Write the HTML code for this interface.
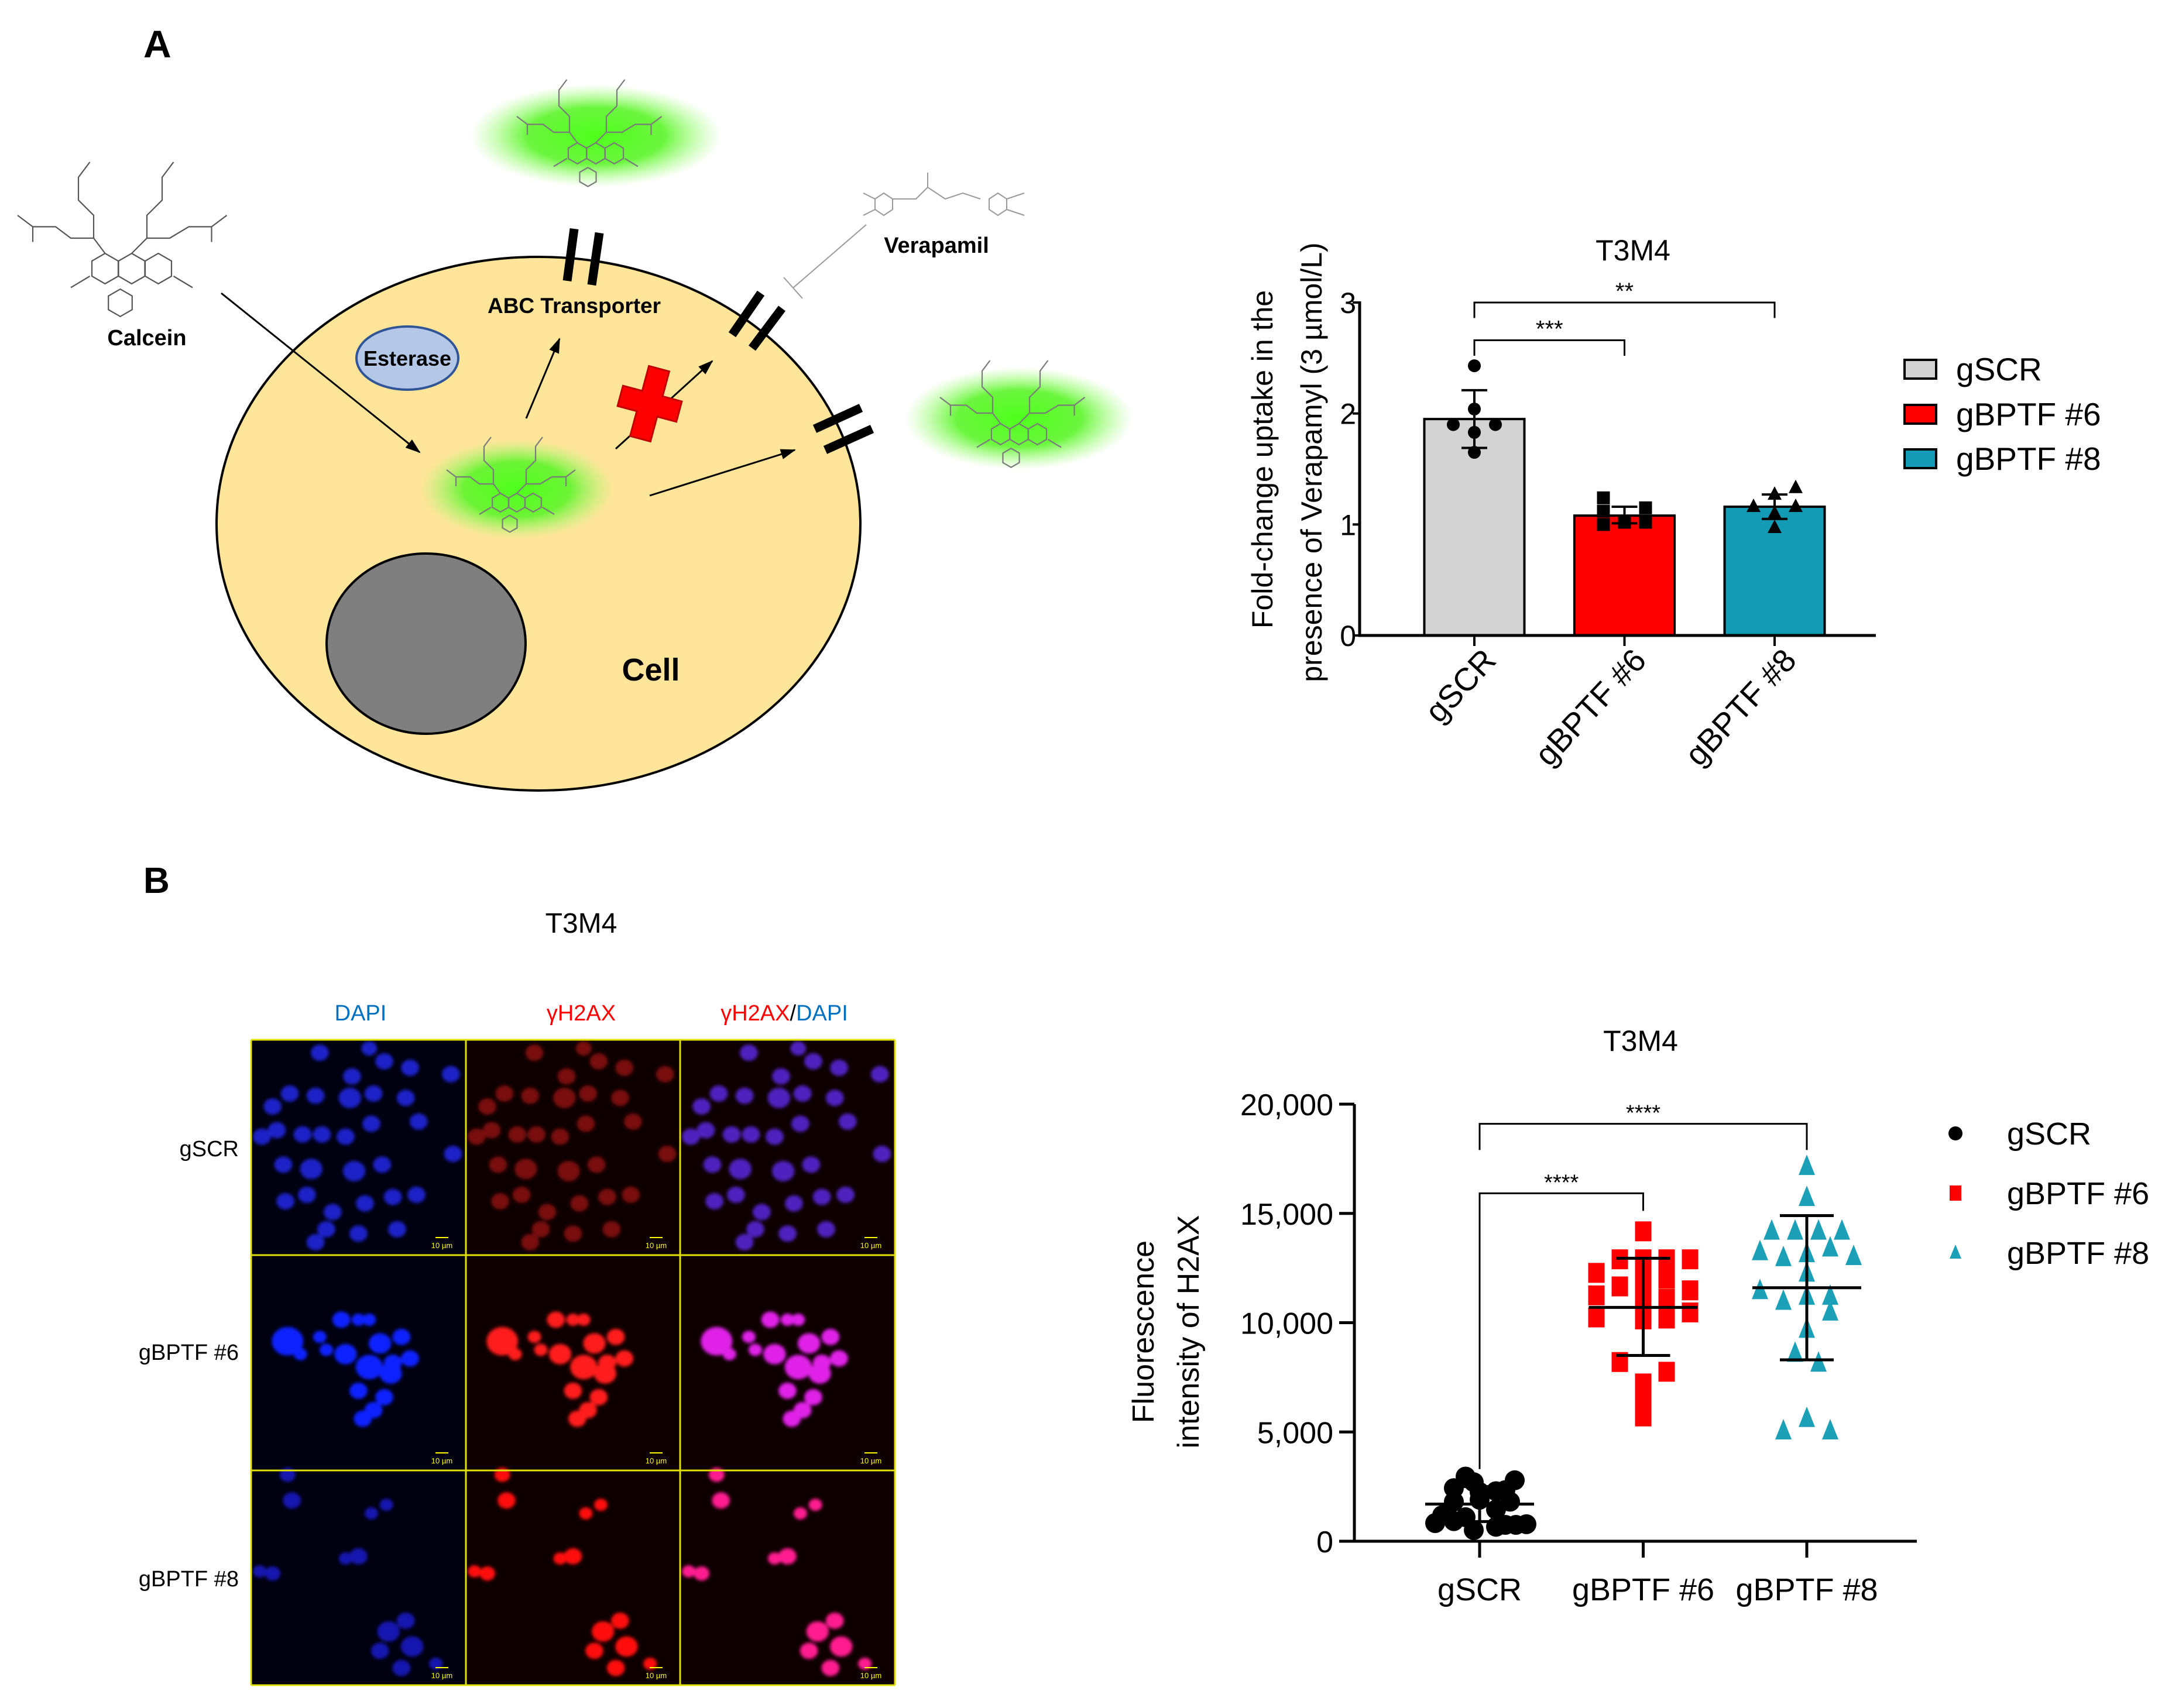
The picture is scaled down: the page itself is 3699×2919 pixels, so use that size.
<!DOCTYPE html>
<html><head><meta charset="utf-8">
<style>
html,body{margin:0;padding:0;background:#fff;}
svg{display:block;font-family:"Liberation Sans",sans-serif;}
.dg{font-family:"Liberation Sans",sans-serif;font-weight:bold;}
</style></head>
<body>
<svg id="fig" width="3699" height="2919" viewBox="0 0 3699 2919" xmlns="http://www.w3.org/2000/svg">
<defs>
  <radialGradient id="glow" cx="50%" cy="50%" r="50%">
    <stop offset="0%" stop-color="#4dff1a" stop-opacity="1"/>
    <stop offset="55%" stop-color="#5cf52a" stop-opacity="0.9"/>
    <stop offset="100%" stop-color="#9cff6e" stop-opacity="0"/>
  </radialGradient>
  <filter id="blur1"><feGaussianBlur stdDeviation="6"/></filter>
  <filter id="blur2"><feGaussianBlur stdDeviation="3"/></filter>
  <marker id="arrB" markerWidth="26" markerHeight="22" refX="24" refY="11" orient="auto" markerUnits="userSpaceOnUse" viewBox="0 0 26 22">
    <path d="M0,2 L26,11 L0,20 z" fill="#000"/>
  </marker>
</defs>
<rect width="3699" height="2919" fill="#fff"/>

<!-- Panel A diagram -->
<g id="diagram">
  <text x="245" y="98" font-size="66" class="dg">A</text>
  <ellipse cx="1018" cy="232" rx="215" ry="88" fill="url(#glow)"/>
  <ellipse cx="920" cy="895" rx="550" ry="456" fill="#fee599" stroke="#000" stroke-width="4"/>
  <ellipse cx="728" cy="1100" rx="170" ry="154" fill="#7f7f7f" stroke="#000" stroke-width="4"/>
  <ellipse cx="696" cy="612" rx="87" ry="54" fill="#b4c7e7" stroke="#2f5597" stroke-width="4"/>
  <text x="696" y="625" font-size="36" text-anchor="middle" class="dg">Esterase</text>
  <ellipse cx="883" cy="836" rx="165" ry="85" fill="url(#glow)"/>
  <ellipse cx="1741" cy="715" rx="195" ry="88" fill="url(#glow)"/>
  <g id="mols"></g>
  <text x="251" y="590" font-size="38" text-anchor="middle" class="dg">Calcein</text>
  <text x="981" y="535" font-size="37" text-anchor="middle" class="dg">ABC Transporter</text>
  <text x="1600" y="432" font-size="38" text-anchor="middle" class="dg">Verapamil</text>
  <text x="1112" y="1163" font-size="54" text-anchor="middle" class="dg">Cell</text>
  <g stroke="#000" stroke-width="15">
    <line x1="981" y1="391" x2="969" y2="480"/>
    <line x1="1024" y1="398" x2="1011" y2="487"/>
    <line x1="1300" y1="501" x2="1251" y2="572"/>
    <line x1="1336" y1="527" x2="1285" y2="595"/>
    <line x1="1392" y1="733" x2="1471" y2="697"/>
    <line x1="1410" y1="769" x2="1490" y2="733"/>
  </g>
  <g stroke="#000" stroke-width="3" fill="none">
    <line x1="378" y1="501" x2="717" y2="773" marker-end="url(#arrB)"/>
    <line x1="899" y1="715" x2="956" y2="579" marker-end="url(#arrB)"/>
    <line x1="1052" y1="767" x2="1217" y2="617" marker-end="url(#arrB)"/>
    <line x1="1110" y1="847" x2="1358" y2="769" marker-end="url(#arrB)"/>
    <line x1="1480" y1="384" x2="1355" y2="492" stroke="#999" stroke-width="2"/>
    <line x1="1339" y1="474" x2="1371" y2="510" stroke="#999" stroke-width="2"/>
  </g>
  <g transform="translate(1110,690) rotate(15)">
    <path d="M-18,-62 H18 V-18 H52 V18 H18 V62 H-18 V18 H-52 V-18 H-18 Z" fill="#ff0000" stroke="#c00000" stroke-width="3"/>
  </g>
</g>

<!-- Panel B microscopy -->
<g id="micro" transform="translate(0,-6)">
  <text x="245" y="1532" font-size="62" class="dg">B</text>
  <text x="993" y="1600" font-size="48" text-anchor="middle">T3M4</text>
  <text x="616" y="1750" font-size="38" text-anchor="middle" fill="#0070c0">DAPI</text>
  <text x="993" y="1750" font-size="38" text-anchor="middle" fill="#ff0000">γH2AX</text>
  <text x="1340" y="1750" font-size="38" text-anchor="middle"><tspan fill="#ff0000">γH2AX</tspan><tspan fill="#000">/</tspan><tspan fill="#0070c0">DAPI</tspan></text>
  <text x="408" y="1982" font-size="38" text-anchor="end">gSCR</text>
  <text x="408" y="2330" font-size="38" text-anchor="end">gBPTF #6</text>
  <text x="408" y="2717" font-size="38" text-anchor="end">gBPTF #8</text>
  <g id="panels"></g>
</g>

<!-- Bar chart -->
<g id="bar" transform="translate(-8,-5)">
  <text x="2798" y="450" font-size="50" text-anchor="middle">T3M4</text>
  <text transform="translate(2182,790) rotate(-90)" font-size="50" text-anchor="middle">Fold-change uptake in the</text>
  <text transform="translate(2266,795) rotate(-90)" font-size="50" text-anchor="middle">presence of Verapamyl (3 µmol/L)</text>
</g>

<!-- Scatter chart -->
<g id="sc" transform="translate(-14,-12)">
  <text x="2817" y="1808" font-size="50" text-anchor="middle">T3M4</text>
  <text transform="translate(1985,2288) rotate(-90)" font-size="52" text-anchor="middle">Fluorescence</text>
  <text transform="translate(2062,2288) rotate(-90)" font-size="52" text-anchor="middle">intensity of H2AX</text>
</g>
</svg>

<script>
const NS='http://www.w3.org/2000/svg';
function mk(parent,tag,attrs,txt){const e=document.createElementNS(NS,tag);for(const k in attrs)e.setAttribute(k,attrs[k]);if(txt!==undefined)e.textContent=txt;parent.appendChild(e);return e;}

/* ---------- Bar chart data ---------- */
const barCats=['gSCR','gBPTF #6','gBPTF #8'];
const barMeans=[1.95,1.08,1.16];
const barSdLow=[1.69,1.01,1.05];
const barSdHigh=[2.21,1.16,1.27];
const barPtsScr=[2.43,2.04,1.90,1.90,1.83,1.65];
const barPts6=[1.24,1.12,1.15,1.00,1.02,1.02];
const barPts8=[1.33,1.27,1.16,1.16,1.10,0.97];
const barTicks=[0,1,2,3];
const barTickLabels=['0','1','2','3'];
const barColors=['#d3d3d3','#ff0000','#139bb6'];

/* ---------- Scatter data ---------- */
const scCats=['gSCR','gBPTF #6','gBPTF #8'];
const scScr=[2960,2790,2700,2430,2340,2250,2290,1810,1810,1900,1450,1190,1100,920,830,750,750,780,660,510];
const scB6=[14180,12900,12900,12900,12900,12280,12050,11660,12010,11480,11250,11660,11090,10770,10470,10240,10150,10190,8200,7755,7220,6600,5710];
const scB8=[17160,15740,14200,14200,14200,14200,13260,13430,13170,13040,12990,12280,11480,11220,11220,10990,10500,9710,8610,8160,5630,5060,5060];
const scMeans=[1700,10700,11600];
const scSdLow=[900,8500,8300];
const scSdHigh=[2500,12950,14900];
const scTicks=[0,5000,10000,15000,20000];
const scTickLabels=['0','5,000','10,000','15,000','20,000'];

/* layout-only jitter (step units) */
const jitScr=[-0.6,1.5,-0.25,-1.1,1.1,0,0.7,-1.1,1.3,0,0.7,-1.6,-0.6,-1.1,-1.9,1.1,1.55,2,0.7,-0.25];
const jitB6=[0,-1,0,1,2,-2,0,-1,1,2,-2,0,1,0,2,-2,0,1,-1,1,0,0,0];
const jitB8=[0,0,-1.5,-0.5,0.5,1.5,-2,1,0,2,-1,0,-2,0,1,-1,1,0,-0.5,0.5,0,-1,1];
const barJScr=[0,0,-1,1,0,0], barJ6=[-1,-1,1,-1,0,1], barJ8=[1,0,-1,1,0,0];

/* ---------- Bar chart drawing ---------- */
(function(){
  const g=document.getElementById('bar');
  const x0=2331,xEnd=3213,y0=1091,y3=522;
  const yB=v=>y0-(v/3)*(y0-y3);
  const xB=i=>2527+i*256.5;
  const bw=171;
  for(let i=0;i<barCats.length;i++){
    const r=mk(g,'rect',{x:xB(i)-bw/2,y:yB(barMeans[i]),width:bw,height:yB(0)-yB(barMeans[i]),fill:barColors[i],stroke:'#000','stroke-width':4});
    
    
  }
  const pts=[barPtsScr,barPts6,barPts8], jit=[barJScr,barJ6,barJ8];
  for(let i=0;i<3;i++){
    pts[i].forEach((v,j)=>{
      const cx=xB(i)+jit[i][j]*36, cy=yB(v);
      let e;
      if(i===0) e=mk(g,'circle',{cx:cx,cy:cy,r:11,fill:'#000'});
      else if(i===1) e=mk(g,'rect',{x:cx-11,y:cy-11,width:22,height:22,fill:'#000'});
      else e=mk(g,'path',{d:`M${cx},${cy-14} L${cx+12},${cy+9} L${cx-12},${cy+9} Z`,fill:'#000'});
      
      
    });
    const eb=mk(g,'path',{d:`M${xB(i)},${yB(barSdLow[i])} V${yB(barSdHigh[i])} M${xB(i)-22},${yB(barSdHigh[i])} H${xB(i)+22} M${xB(i)-22},${yB(barSdLow[i])} H${xB(i)+22}`,stroke:'#000','stroke-width':4,fill:'none'});
    
    
  }
  const ax=mk(g,'path',{d:`M${x0},${y3-2} V${y0} H${xEnd}`,stroke:'#000','stroke-width':5,fill:'none'});
  
  
  barTicks.forEach((t,k)=>{
    const tk=mk(g,'line',{x1:x0-12,x2:x0,y1:yB(t),y2:yB(t),stroke:'#000','stroke-width':4});
    
    
    const tl=mk(g,'text',{x:x0-6,y:yB(t)+18,'font-size':50,'text-anchor':'end'},barTickLabels[k]);
    
    
  });
  barCats.forEach((c,i)=>{
    const tk=mk(g,'line',{x1:xB(i),x2:xB(i),y1:y0,y2:y0+18,stroke:'#000','stroke-width':4});
    
    
    const tl=mk(g,'text',{transform:`translate(${xB(i)+40},${y0+45}) rotate(-47)`,'font-size':55,'text-anchor':'end'},c);
    
    
  });
  const b1=mk(g,'path',{d:`M${xB(0)},${yB(2.86)} V${yB(3)} H${xB(2)} V${yB(2.86)}`,stroke:'#000','stroke-width':3,fill:'none'});
  
  
  const s1=mk(g,'text',{x:(xB(0)+xB(2))/2,y:yB(3)-6,'font-size':40,'text-anchor':'middle'},'**');
  
  
  const b2=mk(g,'path',{d:`M${xB(0)},${yB(2.52)} V${yB(2.66)} H${xB(1)} V${yB(2.52)}`,stroke:'#000','stroke-width':3,fill:'none'});
  
  
  const s2=mk(g,'text',{x:(xB(0)+xB(1))/2,y:yB(2.66)-6,'font-size':40,'text-anchor':'middle'},'***');
  
  
  const ly=[636,713,789];
  barCats.forEach((c,i)=>{
    const r=mk(g,'rect',{x:3262,y:ly[i]-16,width:54,height:32,fill:barColors[i],stroke:'#000','stroke-width':4});
    
    
    const t=mk(g,'text',{x:3350,y:ly[i]+19,'font-size':55},c);
    
    
  });
})();

/* ---------- Scatter drawing ---------- */
(function(){
  const g=document.getElementById('sc');
  const x0=2328,xEnd=3289,y0=2646,yTop=1899;
  const yS=v=>y0-(v/20000)*(y0-yTop);
  const xS=i=>2542+i*279.5;
  const step=40;
  const cols=['#000','#ff0000','#1ba0b8'];
  const ax=mk(g,'path',{d:`M${x0},${yTop} V${y0} H${xEnd}`,stroke:'#000','stroke-width':5,fill:'none'});
  
  
  scTicks.forEach((t,k)=>{
    const tk=mk(g,'line',{x1:x0-26,x2:x0,y1:yS(t),y2:yS(t),stroke:'#000','stroke-width':5});
    
    
    const tl=mk(g,'text',{x:x0-36,y:yS(t)+19,'font-size':52,'text-anchor':'end'},scTickLabels[k]);
    
    
  });
  scCats.forEach((c,i)=>{
    const tk=mk(g,'line',{x1:xS(i),x2:xS(i),y1:y0,y2:y0+28,stroke:'#000','stroke-width':5});
    
    
    const tl=mk(g,'text',{x:xS(i),y:2747,'font-size':54,'text-anchor':'middle'},c);
    
    
  });
  const b1=mk(g,'path',{d:`M${xS(0)},${yS(17900)} V${yS(19100)} H${xS(2)} V${yS(17900)}`,stroke:'#000','stroke-width':3,fill:'none'});
  
  
  const s1=mk(g,'text',{x:(xS(0)+xS(2))/2,y:yS(19100)-6,'font-size':38,'text-anchor':'middle'},'****');
  
  
  const b2=mk(g,'path',{d:`M${xS(0)},${yS(3300)} V${yS(15920)} H${xS(1)} V${yS(15120)}`,stroke:'#000','stroke-width':3,fill:'none'});
  
  
  const s2=mk(g,'text',{x:(xS(0)+xS(1))/2,y:yS(15920)-6,'font-size':38,'text-anchor':'middle'},'****');
  
  
  const sets=[scScr,scB6,scB8], jits=[jitScr,jitB6,jitB8];
  for(let i=0;i<3;i++){
    sets[i].forEach((v,j)=>{
      const cx=xS(i)+jits[i][j]*step, cy=yS(v);
      let e;
      if(i===0) e=mk(g,'circle',{cx:cx,cy:cy,r:17,fill:cols[0]});
      else if(i===1) e=mk(g,'rect',{x:cx-14,y:cy-17,width:28,height:34,fill:cols[1]});
      else e=mk(g,'path',{d:`M${cx},${cy-20} L${cx+14},${cy+15} L${cx-14},${cy+15} Z`,fill:cols[2]});
      
      
    });
  }
  for(let i=0;i<3;i++){
    const m=mk(g,'path',{d:`M${xS(i)-93},${yS(scMeans[i])} H${xS(i)+93} M${xS(i)},${yS(scSdLow[i])} V${yS(scSdHigh[i])} M${xS(i)-46},${yS(scSdHigh[i])} H${xS(i)+46} M${xS(i)-46},${yS(scSdLow[i])} H${xS(i)+46}`,stroke:'#000','stroke-width':5,fill:'none'});
    
    
  }
  const ly=[1949,2051,2153];
  scCats.forEach((c,i)=>{
    let e;
    if(i===0) e=mk(g,'circle',{cx:3355,cy:ly[i],r:12,fill:cols[0]});
    else if(i===1) e=mk(g,'rect',{x:3345,y:ly[i]-13,width:20,height:26,fill:cols[1]});
    else e=mk(g,'path',{d:`M3355,${ly[i]-14} L3365,${ly[i]+10} L3345,${ly[i]+10} Z`,fill:cols[2]});
    
    
    const t=mk(g,'text',{x:3443,y:ly[i]+19,'font-size':54},c);
    
    
  });
})();

/* ---------- Molecule sketches ---------- */
(function(){
  const g=document.getElementById('mols');
  function mol(cx,cy,s,col){
    const grp=mk(g,'g',{transform:`translate(${cx},${cy}) scale(${s})`,stroke:col,'stroke-width':2.2/s,fill:'none'});
    
    
    const hex=(x,y,r)=>{let d='';for(let k=0;k<6;k++){const a=Math.PI/3*k+Math.PI/6;d+=(k?'L':'M')+(x+r*Math.cos(a)).toFixed(1)+','+(y+r*Math.sin(a)).toFixed(1);}mk(grp,'path',{d:d+'Z'});};
    hex(-35,30,20);hex(0,30,20);hex(35,30,20);hex(-15,75,18);
    mk(grp,'path',{d:'M-35,10 L-50,-10 L-80,-10 L-100,-25 L-130,-25 L-150,-40 M-50,-10 L-50,-40 L-70,-60 L-70,-90 L-55,-110 M0,10 L20,-10 L50,-10 L75,-25 L105,-25 L125,-40 M20,-10 L20,-40 L40,-60 L40,-90 L55,-110 M-55,40 L-80,55 M55,40 L80,55 M-130,-25 L-130,-5 M105,-25 L105,-5'});
  }
  mol(225,420,1.3,'#555');
  mol(1018,235,0.9,'#7a7a7a');
  mol(883,835,0.8,'#7a7a7a');
  mol(1741,715,0.9,'#7a7a7a');
  const v=mk(g,'path',{d:'M1495,340 l15,-10 l15,10 l0,18 l-15,10 l-15,-10z M1525,340 l40,0 l20,-20 l30,20 l30,-10 l30,10 M1585,320 l0,-25 M1690,340 l15,-10 l15,10 l0,18 l-15,10 l-15,-10z M1720,340 l30,-10 M1720,358 l30,10 M1495,358 l-20,10 M1495,340 l-20,-10',stroke:'#999','stroke-width':2,fill:'none'});
  
  
})();

/* ---------- Microscopy panels ---------- */
(function(){
  const g=document.getElementById('panels');
  const colX=[429,796,1162,1529], rowY=[1783,2151,2519,2886];
  const rows=[
    [[.32,.06,.04],[.55,.04,.035],[.62,.1,.04],[.74,.13,.04],[.93,.16,.04],[.47,.17,.04],[.18,.25,.04],[.3,.26,.04],[.46,.27,.05],[.57,.25,.04],[.72,.27,.04],[.1,.31,.04],[.05,.45,.04],[.12,.42,.04],[.24,.44,.04],[.33,.44,.04],[.44,.45,.04],[.56,.39,.04],[.78,.38,.04],[.94,.53,.04],[.15,.58,.04],[.28,.6,.05],[.48,.61,.05],[.61,.58,.04],[.26,.72,.04],[.16,.75,.04],[.38,.8,.04],[.53,.76,.04],[.66,.73,.04],[.77,.72,.04],[.35,.88,.04],[.5,.9,.04],[.68,.88,.04],[.3,.94,.04]],
    [[.17,.4,.07],[.23,.46,.03],[.32,.38,.03],[.35,.44,.03],[.42,.3,.04],[.5,.3,.03],[.55,.3,.03],[.44,.46,.05],[.6,.41,.05],[.7,.38,.04],[.74,.48,.04],[.55,.52,.06],[.65,.55,.05],[.5,.63,.04],[.62,.66,.04],[.57,.72,.04],[.52,.76,.04],[.66,.5,.04]],
    [[.17,.02,.035],[.19,.14,.04],[.63,.16,.03],[.56,.2,.03],[.44,.41,.03],[.5,.4,.04],[.04,.47,.03],[.1,.48,.035],[.72,.7,.04],[.64,.75,.05],[.75,.82,.05],[.6,.84,.04],[.7,.92,.04],[.86,.9,.03]]
  ];
  const colors=[
    ['#1a22c8','#7a0c0c','#5020c0'],
    ['#1020ff','#ff1a1a','#e020e8'],
    ['#1818b0','#ff1010','#ff1a90']
  ];
  for(let r=0;r<3;r++){
    for(let c=0;c<3;c++){
      const x=colX[c],y=rowY[r],w=colX[c+1]-x,h=rowY[r+1]-y;
      const bg=mk(g,'rect',{x:x,y:y,width:w,height:h,fill:c===0?'#000010':'#0e0000'});
      
      
      const cg=mk(g,'g',{filter:'url(#blur2)'});
      
      
      rows[r].forEach(n=>{
        mk(cg,'ellipse',{cx:x+n[0]*w,cy:y+n[1]*h,rx:n[2]*w*1.05,ry:n[2]*h*0.95,fill:colors[r][c]});
      });
      const sb=mk(g,'line',{x1:x+w-52,x2:x+w-30,y1:y+h-30,y2:y+h-30,stroke:'#ffff00','stroke-width':2});
      
      
      const st=mk(g,'text',{x:x+w-41,y:y+h-12,'font-size':13,fill:'#ffff00','text-anchor':'middle'},'10 µm');
      
      
    }
  }
  for(let c=0;c<4;c++){
    const l=mk(g,'line',{x1:colX[c],x2:colX[c],y1:rowY[0],y2:rowY[3],stroke:'#e0e000','stroke-width':3});
    
    
  }
  for(let r=0;r<4;r++){
    const l=mk(g,'line',{x1:colX[0],x2:colX[3],y1:rowY[r],y2:rowY[r],stroke:'#e0e000','stroke-width':3});
    
    
  }
})();
</script>
</body></html>
